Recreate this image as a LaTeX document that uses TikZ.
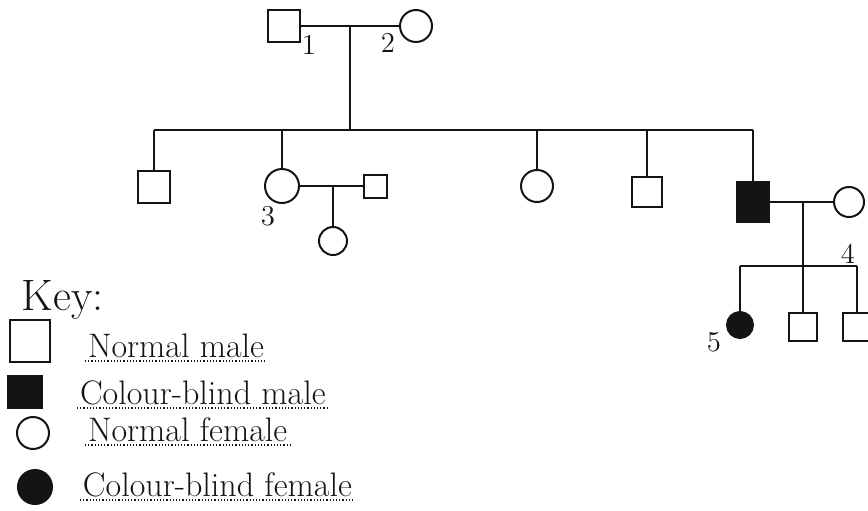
\documentclass[tikz,border=0pt]{standalone}
\usepackage{xcolor}
\usepackage{tikz}
\usetikzlibrary{calc,positioning}
\definecolor{PedInk}{HTML}{141414}

\begin{document}
\begin{tikzpicture}[x=0.5pt,y=-0.5pt, line width=1pt, draw=PedInk,
  male/.style={draw=PedInk,rectangle,minimum size=16pt,inner sep=0pt},
  female/.style={draw=PedInk,circle,minimum size=15pt,inner sep=0pt},
  affected/.style={fill=PedInk},
  num/.style={text=PedInk,font=\Large},
  keytext/.style={text=PedInk,font=\fontsize{17}{19}\selectfont,anchor=base west,inner sep=1pt},
  keyline/.style={densely dotted,line width=0.6pt}]
  \useasboundingbox (0,0) rectangle (868,510);
  % generation I
  \node[male] (i1) at (284,26) {};
  \node[female,minimum size=16pt] (i2) at (416,26) {};
  \draw (i1.east) -- (i2.west);
  \node[num] (n1) at (309,45) {1};
  \node[num] (n2) at (388,43) {2};
  \coordinate (m1) at (350,26);
  \coordinate (sL) at (154,130);
  \coordinate (sR) at (753,130);
  \draw (m1) -- (m1 |- sL);
  \draw (sL) -- (sR);
  % generation II
  \node[male] (ii1) at (154,187) {};
  \node[female,minimum size=17pt] (ii2) at (282,186) {};
  \node[male,minimum size=11.5pt] (ii3) at (375,186) {};
  \node[female,minimum size=16pt] (ii4) at (537,186) {};
  \node[male,minimum size=15pt] (ii5) at (647,192) {};
  \node[male,affected,minimum width=16pt,minimum height=20pt] (ii6) at (753,202) {};
  \node[female] (ii7) at (849,202) {};
  \node[num] (n3) at (268,216) {3};
  \foreach \kid in {ii1,ii2,ii4,ii5,ii6}
    \draw (\kid |- sL) -- (\kid.north);
  \draw (ii2.east) -- (ii3.west);
  \draw (ii6.east) -- (ii7.west);
  % generation III
  \coordinate (m2) at (333,186);
  \node[female,minimum size=14pt] (iii1) at (333,241) {};
  \draw (m2) -- (iii1.north);
  \coordinate (m3) at (803,202);
  \coordinate (s3) at (803,266);
  \node[female,affected,minimum size=13pt] (iv1) at (740,325) {};
  \node[male,minimum size=14pt] (iv2) at (803,327) {};
  \node[male,minimum size=14pt] (iv3) at (857,327) {};
  \node[num] (n4) at (848,254) {4};
  \node[num] (n5) at (714,342) {5};
  \draw (iv1 |- s3) -- (iv3 |- s3);
  \draw (m3) -- (iv2.north);
  \draw (iv1 |- s3) -- (iv1.north);
  \draw (iv3 |- s3) -- (iv3.north);
  % key
  \node[text=PedInk,font=\fontsize{22}{24}\selectfont,anchor=base west] (key) at (14,310) {Key:};
  \node[male,minimum width=20pt,minimum height=21pt] (k1) at (30,341) {};
  \node[male,affected,minimum width=17pt,minimum height=16pt] (k2) at (25,392) {};
  \node[female,minimum size=16pt] (k3) at (33,433) {};
  \node[female,affected,minimum size=17pt] (k4) at (35,487) {};
  \node[keytext] (t1) at (85,357) {Normal male};
  \node[keytext] (t2) at (77,404) {Colour-blind male};
  \node[keytext] (t3) at (85,441) {Normal female};
  \node[keytext] (t4) at (80,496) {Colour-blind female};
  \foreach \t in {t1,t2,t3,t4}
    \draw[keyline] ([yshift=-2pt]\t.base west) -- ([yshift=-2pt]\t.base east);
\end{tikzpicture}
\end{document}
